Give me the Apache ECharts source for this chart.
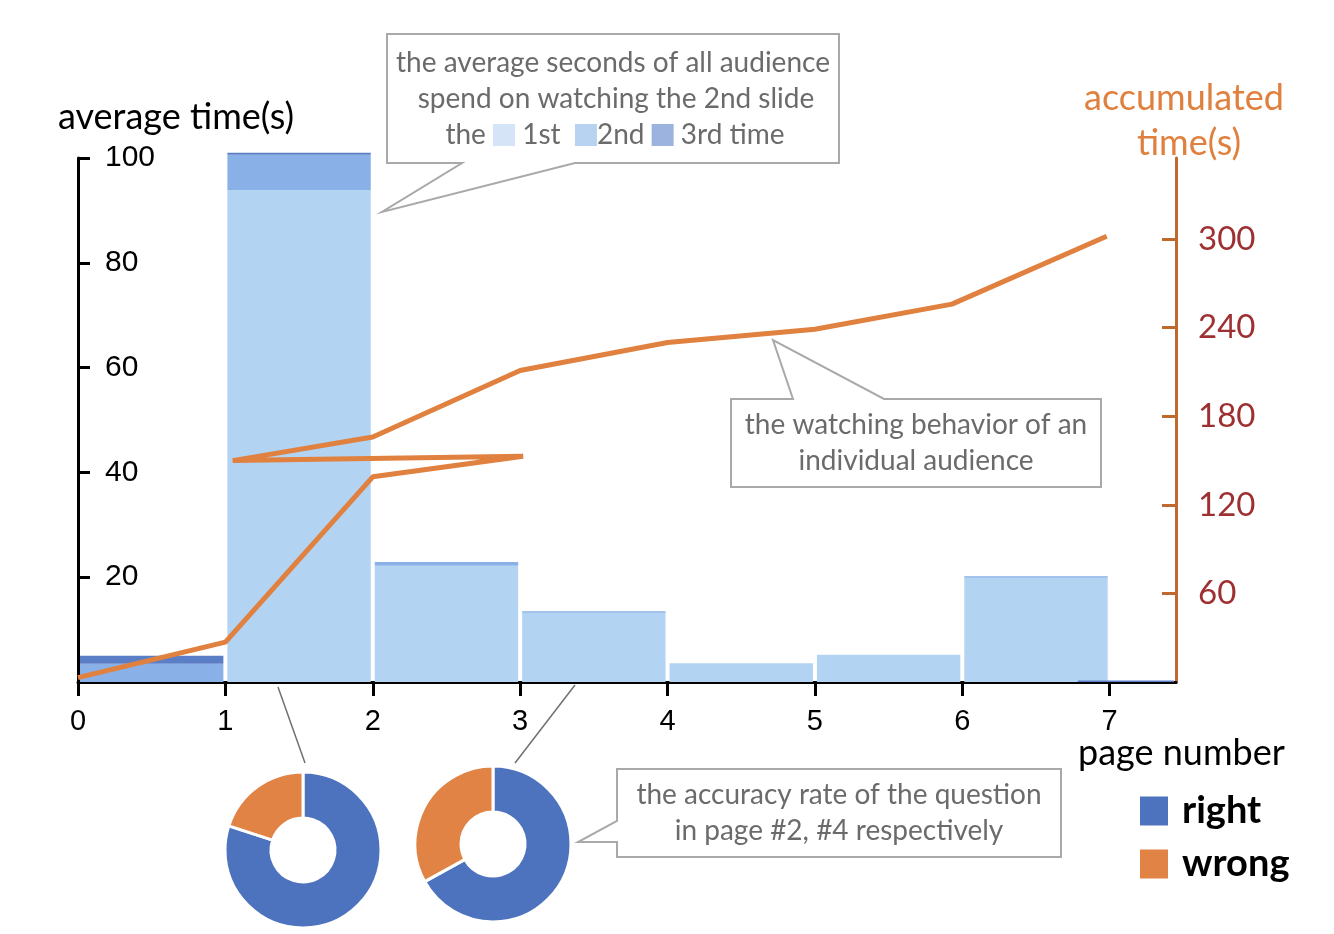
<!DOCTYPE html>
<html>
<head>
<meta charset="utf-8">
<script src="https://cdn.jsdelivr.net/npm/echarts@6/dist/echarts.min.js"></script>
<style>
  html, body { margin: 0; padding: 0; background: #fff; }
  #main { width: 1334px; height: 934px; }
</style>
</head>
<body>
<div id="main"></div>
<script>
// pages: each bar covers [pageStart, pageEnd] on the x axis
var pageStart = [0, 1, 2, 3, 4, 5, 6, 6.77];
var pageEnd = [1, 2, 3, 4, 5, 6, 7, 7.45];
// average seconds spent watching, per viewing round
var firstTime = [0, 93.9, 22.2, 13.2, 3.6, 5.2, 19.9, 0];
var secondTime = [3.5, 6.7, 0.7, 0.3, 0, 0, 0.3, 0];
var thirdTime = [1.5, 0.4, 0, 0, 0, 0, 0, 0.3];

// one audience's accumulated time (page, seconds)
var behaviorPage = [0, 1, 2, 3.02, 1.05, 2, 3, 4, 5, 5.93, 6.98];
var behaviorTime = [3, 27, 139, 153, 150, 166, 211, 230, 239, 256, 302];

// accuracy of the question on page #2 and #4
var accuracyNames = ['right', 'wrong'];
var accuracyPage2 = [80, 20];
var accuracyPage4 = [67, 33];

var xTicks = [0, 1, 2, 3, 4, 5, 6, 7];

var barColors = ['#b3d3f2', '#8ab0e8', '#5b7fc7'];
var pieColors = ['#4e73be', '#e08345'];
var boxColor = '#a9a9a9';
var boxText = '#6b6b6b';
var font = 'Lato, "Open Sans", sans-serif';

var myChart = echarts.init(document.getElementById('main'));

// stacked segments: [x0, x1, yBottom, yTop, colorIndex]
var barData = [];
for (var i = 0; i < pageStart.length; i++) {
    var rounds = [firstTime[i], secondTime[i], thirdTime[i]];
    var base = 0;
    for (var k = 0; k < rounds.length; k++) {
        if (rounds[k] > 0) {
            barData.push([pageStart[i], pageEnd[i], base, base + rounds[k], k]);
            base += rounds[k];
        }
    }
}

var lineData = behaviorPage.map(function (p, idx) {
    return [p, behaviorTime[idx]];
});

function pieData(values) {
    return values.map(function (v, idx) {
        return { name: accuracyNames[idx], value: v, itemStyle: { color: pieColors[idx] } };
    });
}

function renderBar(params, api) {
    var p0 = api.coord([api.value(0), api.value(2)]);
    var p1 = api.coord([api.value(1), api.value(3)]);
    return {
        type: 'rect',
        shape: { x: p0[0] + 2, y: p1[1], width: p1[0] - p0[0] - 4, height: p0[1] - p1[1] },
        style: { fill: barColors[api.value(4)] }
    };
}

// callout box with pointer
function callout(points) {
    return {
        type: 'polygon',
        shape: { points: points },
        style: { fill: '#fff', stroke: boxColor, lineWidth: 2 },
        z: 10
    };
}

function label(text, x, y, size, color, align) {
    return {
        type: 'text',
        x: x,
        y: y,
        style: {
            text: text,
            fill: color,
            font: size + 'px ' + font,
            textAlign: align || 'center',
            textVerticalAlign: 'middle'
        },
        z: 11
    };
}

var option = {
    animation: false,
    backgroundColor: '#fff',
    grid: { left: 78, right: 158, top: 158, bottom: 252 },
    xAxis: {
        type: 'value',
        min: 0,
        max: 7.45,
        interval: 1,
        splitLine: { show: false },
        axisLine: { lineStyle: { color: '#000', width: 3 } },
        axisTick: { show: true, length: 14, lineStyle: { color: '#000', width: 3 }, customValues: xTicks },
        axisLabel: {
            customValues: xTicks,
            margin: 25,
            color: '#000',
            fontSize: 29,
            fontFamily: '"Liberation Sans", Arial, sans-serif'
        }
    },
    yAxis: [
        {
            type: 'value',
            min: 0,
            max: 100,
            interval: 20,
            splitLine: { show: false },
            axisLine: { show: true, lineStyle: { color: '#000', width: 3 } },
            axisTick: { show: true, inside: true, length: 12, lineStyle: { color: '#000', width: 3 } },
            axisLabel: {
                inside: true,
                margin: 27,
                showMinLabel: false,
                color: '#000',
                fontSize: 30,
                fontFamily: '"Liberation Sans", Arial, sans-serif'
            }
        },
        {
            type: 'value',
            position: 'right',
            min: 0,
            max: 355,
            interval: 60,
            splitLine: { show: false },
            axisLine: { show: true, lineStyle: { color: '#c0692f', width: 3 } },
            axisTick: { show: true, inside: true, length: 14, lineStyle: { color: '#c0692f', width: 3 } },
            axisLabel: {
                margin: 22,
                showMinLabel: false,
                showMaxLabel: false,
                color: '#9e3032',
                fontSize: 33,
                fontFamily: font
            }
        }
    ],
    legend: {
        data: accuracyNames,
        orient: 'vertical',
        left: 1138,
        top: 792,
        padding: 0,
        icon: 'rect',
        itemWidth: 30,
        itemHeight: 31,
        itemGap: 15,
        selectedMode: false,
        textStyle: {
            fontSize: 38,
            lineHeight: 31,
            fontWeight: 'bold',
            color: '#000',
            fontFamily: font,
            padding: [0, 0, 0, 8]
        }
    },
    series: [
        {
            name: 'average time',
            type: 'custom',
            renderItem: renderBar,
            encode: { x: [0, 1], y: [2, 3] },
            data: barData,
            z: 2
        },
        {
            name: 'accumulated time',
            type: 'line',
            yAxisIndex: 1,
            symbol: 'none',
            lineStyle: { color: '#e0813f', width: 5 },
            data: lineData,
            z: 3
        },
        {
            name: 'page 2',
            type: 'pie',
            center: [303, 850],
            radius: [32, 78],
            startAngle: 90,
            label: { show: false },
            labelLine: { show: false },
            itemStyle: { borderColor: '#fff', borderWidth: 3 },
            data: pieData(accuracyPage2)
        },
        {
            name: 'page 4',
            type: 'pie',
            center: [493, 844],
            radius: [32, 78],
            startAngle: 90,
            label: { show: false },
            labelLine: { show: false },
            itemStyle: { borderColor: '#fff', borderWidth: 3 },
            data: pieData(accuracyPage4)
        }
    ],
    graphic: [
        // axis names
        label('average time(s)', 58, 117, 36, '#000', 'left'),
        label('accumulated', 1184, 98, 36, '#e0803e'),
        label('time(s)', 1189, 143, 36, '#e0803e'),
        label('page number', 1078, 753, 36, '#000', 'left'),

        // pointer lines from x axis to the pies
        { type: 'line', shape: { x1: 278, y1: 687, x2: 305, y2: 763 }, style: { stroke: '#707070', lineWidth: 1.5 } },
        { type: 'line', shape: { x1: 575, y1: 685, x2: 515, y2: 763 }, style: { stroke: '#707070', lineWidth: 1.5 } },

        // callout: average seconds
        callout([[387, 34], [839, 34], [839, 163], [575, 163], [382, 212], [462, 163], [387, 163]]),
        label('the average seconds of all audience', 613, 63, 28, boxText),
        label('spend on watching the 2nd slide', 616, 99, 28, boxText),
        {
            type: 'text',
            x: 615,
            y: 135,
            z: 11,
            style: {
                text: 'the {a| } 1st  {b| }2nd {c| } 3rd time',
                fill: boxText,
                font: '28px ' + font,
                textAlign: 'center',
                textVerticalAlign: 'middle',
                rich: {
                    a: { width: 22, height: 22, backgroundColor: '#d5e5f7' },
                    b: { width: 22, height: 22, backgroundColor: '#b8d3f2' },
                    c: { width: 22, height: 22, backgroundColor: '#9bb3de' }
                }
            }
        },

        // callout: individual audience
        callout([[731, 399], [793, 399], [773, 340], [884, 399], [1101, 399], [1101, 487], [731, 487]]),
        label('the watching behavior of an', 916, 425, 28, boxText),
        label('individual audience', 916, 461, 28, boxText),

        // callout: accuracy rate
        callout([[617, 769], [1061, 769], [1061, 857], [617, 857], [617, 842], [578, 842], [617, 821]]),
        label('the accuracy rate of the question', 839, 795, 28, boxText),
        label('in page #2, #4 respectively', 839, 831, 28, boxText)
    ]
};

option && myChart.setOption(option);
</script>
</body>
</html>
